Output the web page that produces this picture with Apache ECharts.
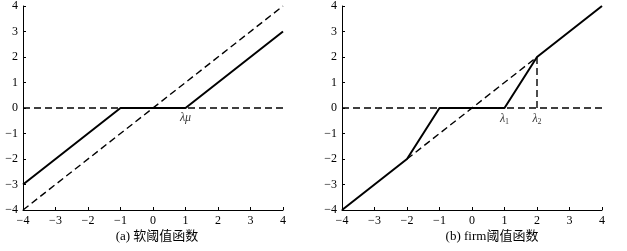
<!DOCTYPE html>
<html><head><meta charset="utf-8">
<script src="https://cdn.jsdelivr.net/npm/echarts@6/dist/echarts.min.js"></script>
<style>html,body{margin:0;padding:0;background:#fff}#c{width:627px;height:251px}</style>
</head><body><div id="c"></div>
<script>
// Tick values
const ticks = [-4,-3,-2,-1,0,1,2,3,4];
// (a) soft threshold
const softSolid = [[-4,-3],[-1,0],[1,0],[4,3]];
const softDiag = [[-4,-4],[4,4]];
const zeroLine = [[-4,0],[4,0]];
const softLabel = [[1,0]];
// (b) firm threshold
const firmSolid = [[-4,-4],[-2,-2],[-1,0],[1,0],[2,2],[4,4]];
const firmDiag = [[-2,-2],[2,2]];
const firmVert = [[2,0],[2,2]];
const firmLabels = [[1,0,'1'],[2,0,'2']];
const captions = ['(a) 软阈值函数','(b) firm阈值函数'];

const FONT = '"Liberation Serif","Noto Sans CJK SC",serif';
const chart = echarts.init(document.getElementById('c'));
function axis(gi){
  return {
    gridIndex: gi, type:'value', min:-4, max:4, interval:1,
    axisLine:{show:true,onZero:false,lineStyle:{color:'#000',width:1}},
    axisTick:{show:true,inside:true,length:3,lineStyle:{color:'#000'}},
    splitLine:{show:false},
    axisLabel:{color:'#000',fontFamily:FONT,fontSize:12,margin:5,
      formatter:v=>String(v).replace('-','\u2212')}
  };
}
const solid = {color:'#000',width:2};
const dashed = {color:'#000',width:1.4,type:[7,4]};
function line(gi,data,style){
  return {type:'line',xAxisIndex:gi,yAxisIndex:gi,data:data,showSymbol:false,symbol:'none',
    lineStyle:style,silent:true,animation:false,z:style.width>1.5?3:2};
}
const opt = {
  animation:false,
  grid:[
    {left:23,top:6,width:260,height:204},
    {left:342,top:6,width:260,height:204}
  ],
  xAxis:[axis(0),axis(1)],
  yAxis:[axis(0),axis(1)],
  series:[
    line(0,zeroLine,dashed),
    line(0,softDiag,dashed),
    line(0,softSolid,solid),
    {type:'scatter',xAxisIndex:0,yAxisIndex:0,data:softLabel,symbolSize:0,
      label:{show:true,position:'bottom',distance:4,formatter:'λμ',color:'#000',
        fontFamily:FONT,fontStyle:'italic',fontSize:12}},
    line(1,zeroLine,dashed),
    line(1,firmDiag,dashed),
    line(1,firmVert,dashed),
    line(1,firmSolid,solid),
    {type:'scatter',xAxisIndex:1,yAxisIndex:1,data:firmLabels,symbolSize:0,
      label:{show:true,position:'bottom',distance:4,color:'#000',
        formatter:p=>'{l|λ}{s|'+p.data[2]+'}',
        rich:{l:{fontFamily:FONT,fontStyle:'italic',fontSize:12,color:'#000'},
              s:{fontFamily:FONT,fontSize:8,color:'#000',verticalAlign:'bottom',padding:[6,0,0,0]}}}}
  ],
  graphic:[
    {type:'text',x:157,y:237,style:{text:captions[0],font:'13px '+FONT,fill:'#000',align:'center',verticalAlign:'middle'}},
    {type:'text',x:492,y:237,style:{text:captions[1],font:'13px '+FONT,fill:'#000',align:'center',verticalAlign:'middle'}}
  ]
};
chart.setOption(opt);
</script></body></html>
